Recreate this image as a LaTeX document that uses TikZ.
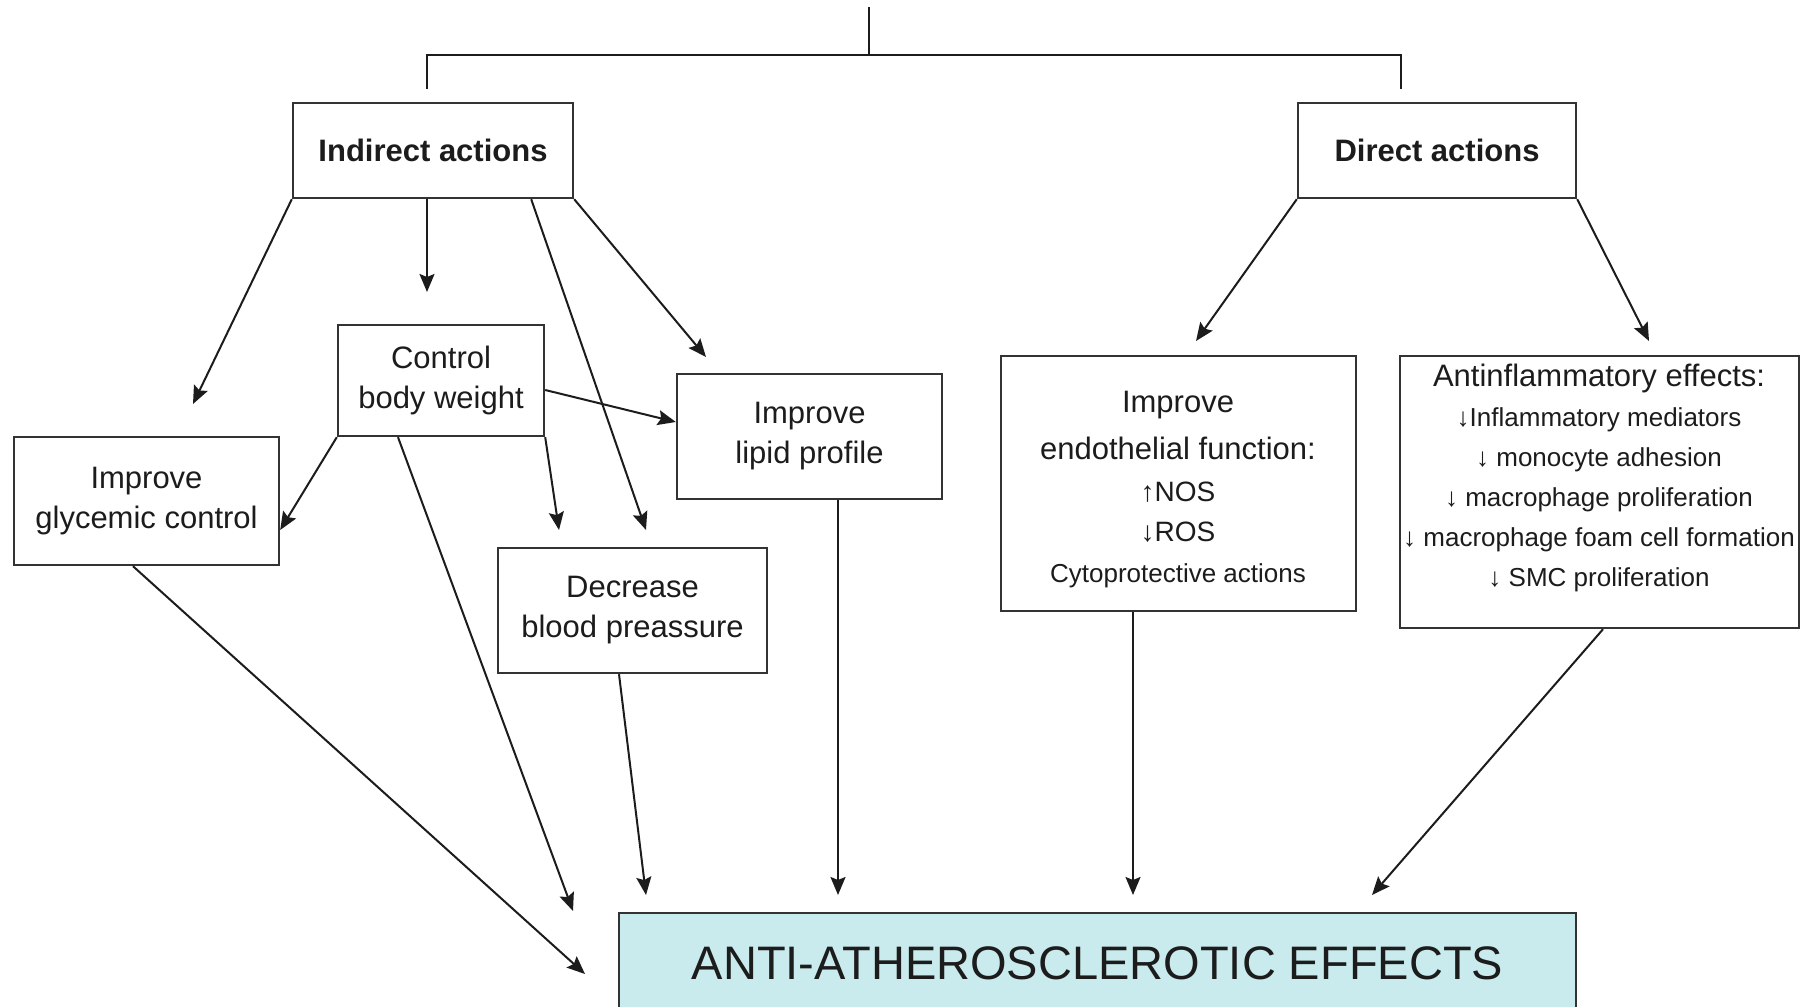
\documentclass[tikz,border=0pt]{standalone}
\usepackage{fontspec}
\setmainfont{Liberation Sans}
\usetikzlibrary{arrows.meta,calc}
\definecolor{ink}{HTML}{1C1C1C}
\definecolor{frame}{HTML}{333333}
\definecolor{effectfill}{HTML}{C9EBEE}
\begin{document}
\begin{tikzpicture}[x=0.5pt,y=-0.5pt,
  box/.style={draw=frame, line width=1.2pt, fill=white, inner sep=0pt, align=center,
    font=\fontsize{15.5}{20}\selectfont, text=ink},
  txt/.style={inner sep=0pt, align=center, text=ink, font=\fontsize{15.5}{20}\selectfont},
  conn/.style={draw=ink, line width=1pt},
  arr/.style={conn, -{Stealth[length=9pt,width=7.5pt,inset=1.5pt]}}]
\useasboundingbox (0,0) rectangle (1808,1006);

% branching bracket at the top
\coordinate (root) at (869,7);
\coordinate (junction) at (869,55);
\coordinate (lefttop) at (427,55);
\coordinate (leftend) at (427,89);
\coordinate (righttop) at (1401,55);
\coordinate (rightend) at (1401,89);
\draw[conn] (root) -- (junction);
\draw[conn] (leftend) -- (lefttop) -- (righttop) -- (rightend);

% first level
\node[box, minimum width=140pt, minimum height=47.5pt] (ind) at (433,150.5) {\bfseries Indirect actions};
\node[box, minimum width=139pt, minimum height=47.5pt] (dir) at (1437,150.5) {\bfseries Direct actions};

% indirect effects
\node[box, minimum width=103pt, minimum height=55.5pt] (cbw) at (441,380.5) {Control\\body weight};
\node[box, minimum width=132.5pt, minimum height=64pt] (gly) at (146.5,501) {Improve\\glycemic control};
\node[box, minimum width=134.5pt, minimum height=62.5pt] (dbp) at (632.5,610.5) {Decrease\\blood preassure};
\node[box, minimum width=132.5pt, minimum height=62.5pt] (lip) at (809.5,436.5) {Improve\\lipid profile};

% direct effects
\node[box, minimum width=177.5pt, minimum height=127.5pt] (endo) at (1178.5,483.5) {};
\node[txt] (endotext) at (1178,490) {Improve\\[3.5pt]
  endothelial function:\\[1pt]
  {\fontsize{14}{20}\selectfont ↑NOS}\\
  {\fontsize{14}{20}\selectfont ↓ROS}\\[0.5pt]
  {\fontsize{13}{20}\selectfont Cytoprotective actions}};
\node[box, minimum width=199.5pt, minimum height=136pt] (infl) at (1599.5,492) {};
\node[txt] (infltext) at (1599,478) {Antinflammatory effects:\\
  {\fontsize{13}{20}\selectfont ↓Inflammatory mediators}\\
  {\fontsize{13}{20}\selectfont ↓ monocyte adhesion}\\
  {\fontsize{13}{20}\selectfont ↓ macrophage proliferation}\\
  {\fontsize{13}{20}\selectfont ↓ macrophage foam cell formation}\\
  {\fontsize{13}{20}\selectfont ↓ SMC proliferation}};

% final outcome
\node[box, fill=effectfill, minimum width=478.5pt, minimum height=50pt,
  font=\fontsize{23.5}{28}\selectfont] (ath) at (1097.5,963) {ANTI-ATHEROSCLEROTIC EFFECTS};

% arrow tips that stop short of their targets
\coordinate (glyin) at (193,404);
\coordinate (cbwin) at (427,292);
\coordinate (dbpin) at (646,530);
\coordinate (dbpin2) at (559,530);
\coordinate (lipin) at (706,357);
\coordinate (endoin) at (1196,341);
\coordinate (inflin) at (1649,341);
\coordinate (athA) at (585,974);
\coordinate (athB) at (573,911);
\coordinate (athC) at (646,895);
\coordinate (athD) at (838,895);
\coordinate (athE) at (1133,895);
\coordinate (athF) at (1372,895);

% from indirect actions
\draw[arr] (ind.south west) -- (glyin);
\draw[arr] ([xshift=-3pt]ind.south) -- (cbwin);
\draw[arr] ([xshift=-21.5pt]ind.south east) -- (dbpin);
\draw[arr] (ind.south east) -- (lipin);

% from body weight control
\draw[arr] ([yshift=-4.75pt]cbw.east) -- ([yshift=7.25pt]lip.west);
\draw[arr] (cbw.south west) -- ([yshift=-14.5pt]gly.east);
\draw[arr] (cbw.south east) -- (dbpin2);
\draw[arr] ([xshift=-21.5pt]cbw.south) -- (athB);

% from direct actions
\draw[arr] (dir.south west) -- (endoin);
\draw[arr] (dir.south east) -- (inflin);

% into the outcome
\draw[arr] ([xshift=-6.75pt]gly.south) -- (athA);
\draw[arr] ([xshift=-6.75pt]dbp.south) -- (athC);
\draw[arr] ([xshift=14.25pt]lip.south) -- (athD);
\draw[arr] ([xshift=-22.75pt]endo.south) -- (athE);
\draw[arr] ([xshift=1.75pt]infl.south) -- (athF);
\end{tikzpicture}
\end{document}
